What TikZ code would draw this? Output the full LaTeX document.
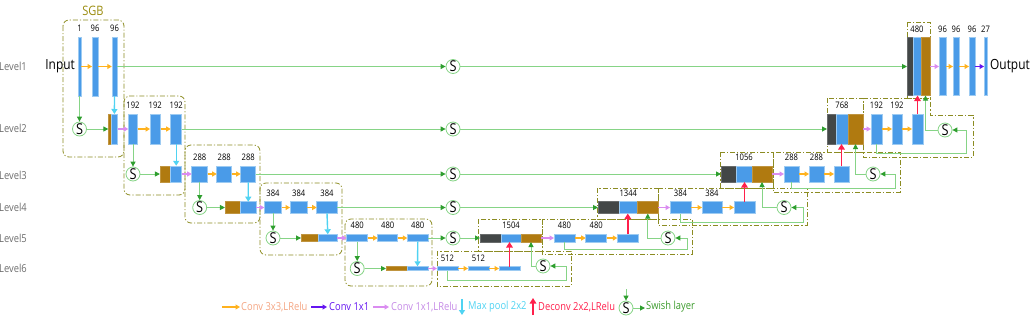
\documentclass[tikz,border=0pt]{standalone}
\usepackage{fontspec}
\setmainfont[FakeStretch=0.85]{Open Sans}
\usetikzlibrary{arrows.meta}
\definecolor{barblue}{HTML}{4A9BE8}
\definecolor{barline}{HTML}{9DCBF2}
\definecolor{catbrown}{HTML}{B07A10}
\definecolor{catgray}{HTML}{434747}
\definecolor{corange}{HTML}{FFB21E}
\definecolor{cpink}{HTML}{DA8CF0}
\definecolor{ccyan}{HTML}{4FD3F2}
\definecolor{cred}{HTML}{FF1F4B}
\definecolor{cpurple}{HTML}{6414F0}
\definecolor{glight}{HTML}{86D486}
\definecolor{gdark}{HTML}{2E9E2E}
\definecolor{olivebox}{HTML}{8C8C22}
\definecolor{lvlgray}{HTML}{6E6E6E}
\definecolor{sgbcol}{HTML}{9A8B0C}
\definecolor{lorange}{HTML}{F4A582}
\definecolor{lpink}{HTML}{C58AE6}
\definecolor{lgreen}{HTML}{3A9A2A}
\newcommand\blk[6]{\node[#6, minimum width=#4pt, minimum height=#5pt] (#1) at (#2,#3) {};}
\newcommand\lab[3]{\node[lbl] (#1) at ([yshift=5.5pt]#2.north) {#3};}
\begin{document}
\begin{tikzpicture}[x=1pt,y=-1pt,
  bar/.style={draw=barline, fill=barblue, line width=0.5pt, inner sep=0pt, outer sep=0pt},
  brn/.style={draw=catbrown!80!white, fill=catbrown, line width=0.5pt, inner sep=0pt, outer sep=0pt},
  gry/.style={draw=catgray!80!white, fill=catgray, line width=0.5pt, inner sep=0pt, outer sep=0pt},
  lbl/.style={anchor=base, inner sep=0pt, font=\fontsize{9}{10}\selectfont},
  lvl/.style={anchor=west, inner sep=0pt, text=lvlgray, font=\fontsize{11}{12}\selectfont},
  big/.style={inner sep=0pt, font=\fontsize{14}{15}\selectfont},
  leg/.style={anchor=west, inner sep=0pt, font=\fontsize{11}{12}\selectfont},
  sw/.style={circle, draw=glight, fill=white, line width=0.8pt, minimum size=14pt, inner sep=0pt, font=\fontsize{15}{15}\selectfont},
  oarr/.style={corange, line width=1.3pt, -{Triangle[width=5pt,length=4.5pt]}},
  parr/.style={cpink, line width=1.3pt, -{Triangle[width=5pt,length=4.5pt]}},
  varr/.style={cpurple, line width=1.3pt, -{Triangle[width=5pt,length=4.5pt]}},
  carr/.style={ccyan, line width=1.4pt, -{Triangle[width=6pt,length=5pt]}},
  rarr/.style={cred, line width=1.8pt, -{Triangle[width=6.5pt,length=5.5pt]}},
  garr/.style={glight, line width=1pt, -{Triangle[width=5pt,length=5pt,color=gdark]}},
  grp/.style={olivebox, line width=0.8pt, dash pattern=on 5pt off 2pt on 1.2pt off 2pt},
  egrp/.style={grp, rounded corners=6pt}]
\useasboundingbox (0,0) rectangle (1033,317);

% ---------- group boxes ----------
\draw[egrp] (63,20) rectangle (124,157);
\draw[egrp] (124,96) rectangle (185,195);
\draw[egrp] (185,145) rectangle (260,223);
\draw[egrp] (260,183) rectangle (342,255);
\draw[egrp] (345,219) rectangle (432,286);
\draw[grp] (437,251) rectangle (571,286);
\draw[grp] (478,219) rectangle (542,251);
\draw[grp] (542,219) rectangle (692,254);
\draw[grp] (597,188) rectangle (658,219);
\draw[grp] (658,188) rectangle (807,225);
\draw[grp] (720,152) rectangle (773,188);
\draw[grp] (773,152) rectangle (900,192);
\draw[grp] (827,98) rectangle (863,152);
\draw[grp] (863,98) -- (930,98) -- (930,115) -- (973,115) -- (973,157) -- (863,157) -- cycle;
\draw[grp] (907,22) rectangle (930,98);

% ---------- texts ----------
\node[inner sep=0pt, text=sgbcol, font=\fontsize{13}{14}\selectfont] (sgb) at (93,11) {SGB};
\node[lvl] (lv1) at (-1,66.5) {Level1};
\node[lvl] (lv2) at (-1,128) {Level2};
\node[lvl] (lv3) at (-1,175) {Level3};
\node[lvl] (lv4) at (-1,207.5) {Level4};
\node[lvl] (lv5) at (-1,238) {Level5};
\node[lvl] (lv6) at (-1,268) {Level6};
\node[big, anchor=east] (inp) at (75,66) {Input};
\node[big, anchor=west] (outp) at (990,66) {Output};

% ---------- encoder level 1 ----------
\blk{e1a}{79.5}{66.5}{3}{59}{bar}
\blk{e1b}{95}{66.5}{6}{59}{bar}
\blk{e1c}{114.5}{66.5}{5.5}{59}{bar}
\lab{t1a}{e1a}{1}\lab{t1b}{e1b}{96}\lab{t1c}{e1c}{96}
\draw[oarr] (e1a) -- (e1b);
\draw[oarr] (e1b) -- (e1c);

% ---------- encoder level 2 ----------
\node[sw] (s21) at (79.5,129) {S};
\blk{c2r}{109.7}{129}{2.7}{30}{brn}
\blk{c2b}{114.4}{129}{6.6}{30}{bar}
\blk{e2a}{133}{129}{9.4}{30}{bar}
\blk{e2b}{155.3}{129}{10.5}{30}{bar}
\blk{e2c}{176.2}{129}{11}{30}{bar}
\lab{t2a}{e2a}{192}\lab{t2b}{e2b}{192}\lab{t2c}{e2c}{192}
\draw[garr] (e1a) -- (s21);
\draw[garr] (s21) -- (c2r);
\draw[carr] (e1c.south) -- (c2b.north);
\draw[parr] (c2b) -- (e2a);
\draw[oarr] (e2a) -- (e2b);
\draw[oarr] (e2b) -- (e2c);

% ---------- encoder level 3 ----------
\node[sw] (s31) at (133,174) {S};
\blk{c3r}{165.3}{174}{10.7}{16.5}{brn}
\blk{c3b}{176.2}{174}{11}{16.5}{bar}
\blk{e3a}{199.7}{174}{16}{16.5}{bar}
\blk{e3b}{224.2}{174}{15}{16.5}{bar}
\blk{e3c}{248.2}{174}{15}{16.5}{bar}
\lab{t3a}{e3a}{288}\lab{t3b}{e3b}{288}\lab{t3c}{e3c}{288}
\draw[garr] (e2a) -- (s31);
\draw[garr] (s31) -- (c3r);
\draw[carr] (e2c.south) -- (c3b.north);
\draw[parr] (c3b) -- (e3a);
\draw[oarr] (e3a) -- (e3b);
\draw[oarr] (e3b) -- (e3c);

% ---------- encoder level 4 ----------
\node[sw] (s41) at (199.7,207.5) {S};
\blk{c4r}{232.8}{207.5}{15.7}{11.6}{brn}
\blk{c4b}{248.3}{207.5}{15.3}{11.6}{bar}
\blk{e4a}{273}{207.5}{17.4}{11.6}{bar}
\blk{e4b}{298.7}{207.5}{17.3}{11.6}{bar}
\blk{e4c}{327}{207.5}{20.6}{11.6}{bar}
\lab{t4a}{e4a}{384}\lab{t4b}{e4b}{384}\lab{t4c}{e4c}{384}
\draw[garr] (e3a) -- (s41);
\draw[garr] (s41) -- (c4r);
\draw[carr] (e3c.south) -- (c4b.north);
\draw[parr] (c4b) -- (e4a);
\draw[oarr] (e4a) -- (e4b);
\draw[oarr] (e4b) -- (e4c);

% ---------- encoder level 5 ----------
\node[sw] (s51) at (273,238) {S};
\blk{c5r}{309.7}{238}{17.3}{7.4}{brn}
\blk{c5b}{327.8}{238}{19}{7.4}{bar}
\blk{e5a}{357.2}{238}{21}{7.4}{bar}
\blk{e5b}{387.7}{238}{20}{7.4}{bar}
\blk{e5c}{417.8}{238}{21}{7.4}{bar}
\lab{t5a}{e5a}{480}\lab{t5b}{e5b}{480}\lab{t5c}{e5c}{480}
\draw[garr] (e4a) -- (s51);
\draw[garr] (s51) -- (c5r);
\draw[carr] (e4c.south) -- (c5b.north);
\draw[parr] (c5b) -- (e5a);
\draw[oarr] (e5a) -- (e5b);
\draw[oarr] (e5b) -- (e5c);

% ---------- encoder level 6 / bottom ----------
\node[sw] (s61) at (357.2,268.5) {S};
\blk{c6r}{396.5}{268.5}{21}{4.4}{brn}
\blk{c6b}{417.5}{268.5}{21}{4.4}{bar}
\blk{d6a}{447.5}{268.5}{21}{4}{bar}
\blk{d6b}{478.5}{268.5}{21}{4}{bar}
\blk{d6c}{509.5}{268.5}{21}{4}{bar}
\lab{t6a}{d6a}{512}\lab{t6b}{d6b}{512}
\draw[garr] (e5a) -- (s61);
\draw[garr] (s61) -- (c6r);
\draw[carr] (e5c.south) -- (c6b.north);
\draw[parr] (c6b) -- (d6a);
\draw[oarr] (d6a) -- (d6b);
\draw[oarr] (d6b) -- (d6c);

% ---------- decoder blocks ----------
\blk{g5}{490.5}{238}{21}{8}{gry}
\blk{m5}{511}{238}{20}{8}{bar}
\blk{r5}{531}{238}{20}{8}{brn}
\blk{d5a}{564.5}{238}{21}{8}{bar}
\blk{d5b}{596.2}{238}{21}{8}{bar}
\blk{d5c}{627.8}{238}{21}{8}{bar}
\lab{u5}{m5}{1504}\lab{u5a}{d5a}{480}\lab{u5b}{d5b}{480}

\blk{g4}{608.5}{207.5}{21}{12}{gry}
\blk{m4}{628.25}{207.5}{18.5}{12}{bar}
\blk{r4}{647.75}{207.5}{20.5}{12}{brn}
\blk{d4a}{680.5}{207.5}{21}{12}{bar}
\blk{d4b}{712}{207.5}{20}{12}{bar}
\blk{d4c}{744.5}{207.5}{21}{12}{bar}
\lab{u4}{m4}{1344}\lab{u4a}{d4a}{384}\lab{u4b}{d4b}{384}

\blk{g3}{728.5}{174}{15}{16}{gry}
\blk{m3}{744}{174}{16}{16}{bar}
\blk{r3}{762}{174}{20}{16}{brn}
\blk{d3a}{791.5}{174}{15}{16}{bar}
\blk{d3b}{816.5}{174}{15}{16}{bar}
\blk{d3c}{841.5}{174}{15}{16}{bar}
\lab{u3}{m3}{1056}\lab{u3a}{d3a}{288}\lab{u3b}{d3b}{288}

\blk{g2}{831.5}{129}{9}{30}{gry}
\blk{m2}{842}{129}{12}{30}{bar}
\blk{r2}{855.5}{129}{15}{30}{brn}
\blk{d2a}{876.5}{129}{11}{30}{bar}
\blk{d2b}{897}{129}{10}{30}{bar}
\blk{d2c}{917.5}{129}{11}{30}{bar}
\lab{u2}{m2}{768}\lab{u2a}{d2a}{192}\lab{u2b}{d2b}{192}

\blk{g1}{910}{66.5}{6}{58}{gry}
\blk{m1}{917}{66.5}{8}{58}{bar}
\blk{r1}{925.5}{66.5}{9}{58}{brn}
\blk{o1}{942.5}{66.5}{7}{58}{bar}
\blk{o2}{956}{66.5}{6}{58}{bar}
\blk{o3}{972}{66.5}{6}{58}{bar}
\blk{o4}{985.5}{66.5}{3}{58}{bar}
\lab{u1}{m1}{480}\lab{u1a}{o1}{96}\lab{u1b}{o2}{96}\lab{u1c}{o3}{96}\lab{u1d}{o4}{27}

% ---------- skip connections ----------
\node[sw] (k1) at (453,66.5) {S};
\node[sw] (k2) at (453,129) {S};
\node[sw] (k3) at (453,174) {S};
\node[sw] (k4) at (453,207.5) {S};
\node[sw] (k5) at (453,238) {S};
\draw[garr] (e1c) -- (k1); \draw[garr] (k1) -- (g1);
\draw[garr] (e2c) -- (k2); \draw[garr] (k2) -- (g2);
\draw[garr] (e3c) -- (k3); \draw[garr] (k3) -- (g3);
\draw[garr] (e4c) -- (k4); \draw[garr] (k4) -- (g4);
\draw[garr] (e5c) -- (k5); \draw[garr] (k5) -- (g5);

% ---------- decoder connections ----------
\node[sw] (s62) at (543,266) {S};
\node[sw] (s52) at (668,238) {S};
\node[sw] (s42) at (784,207.5) {S};
\node[sw] (s32) at (873,174) {S};
\node[sw] (s22) at (945,130) {S};
\coordinate (q6) at (566,280);
\coordinate (q5) at (687,249.5);
\coordinate (q4) at (803,222);
\coordinate (q3) at (895,188);
\coordinate (q2) at (966,153);

\draw[rarr] (d6c.north) -- (d6c.north |- m5.south);
\draw[garr] (d6a.south) |- (q6) |- (s62);
\draw[garr] (s62) -| (r5.south);

\draw[parr] (r5) -- (d5a);
\draw[oarr] (d5a) -- (d5b);
\draw[oarr] (d5b) -- (d5c);
\draw[rarr] (d5c.north) -- (d5c.north |- m4.south);
\draw[garr] (d5a.south) |- (q5) |- (s52);
\draw[garr] (s52) -| (r4.south);

\draw[parr] (r4) -- (d4a);
\draw[oarr] (d4a) -- (d4b);
\draw[oarr] (d4b) -- (d4c);
\draw[rarr] (d4c.north) -- (d4c.north |- m3.south);
\draw[garr] (d4a.south) |- (q4) |- (s42);
\draw[garr] (s42) -| (r3.south);

\draw[parr] (r3) -- (d3a);
\draw[oarr] (d3a) -- (d3b);
\draw[oarr] (d3b) -- (d3c);
\draw[rarr] (d3c.north) -- (d3c.north |- m2.south);
\draw[garr] (d3a.south) |- (q3) |- (s32);
\draw[garr] (s32) -| (r2.south);

\draw[parr] (r2) -- (d2a);
\draw[oarr] (d2a) -- (d2b);
\draw[oarr] (d2b) -- (d2c);
\draw[rarr] (d2c.north) -- (d2c.north |- m1.south);
\draw[garr] (d2a.south) |- (q2) |- (s22);
\draw[garr] (s22) -| (r1.south);

\draw[parr] (r1) -- (o1);
\draw[oarr] (o1) -- (o2);
\draw[oarr] (o2) -- (o3);
\draw[varr] (o3) -- (o4);

% ---------- legend ----------
\coordinate (la1) at (222,307); \coordinate (la2) at (240,307);
\draw[oarr] (la1) -- (la2);
\node[leg, text=lorange] (lt1) at (241,307) {Conv 3x3,LRelu};
\coordinate (lb1) at (311,307); \coordinate (lb2) at (327,307);
\draw[varr] (lb1) -- (lb2);
\node[leg, text=cpurple] (lt2) at (329,307) {Conv 1x1};
\coordinate (lc1) at (373,307); \coordinate (lc2) at (389,307);
\draw[parr] (lc1) -- (lc2);
\node[leg, text=lpink] (lt3) at (391,307) {Conv 1x1,LRelu};
\coordinate (ld1) at (462,299); \coordinate (ld2) at (462,315);
\draw[carr] (ld1) -- (ld2);
\node[leg, text=ccyan] (lt4) at (468,307) {Max pool 2x2};
\coordinate (le1) at (533,315); \coordinate (le2) at (533,298);
\draw[rarr] (le1) -- (le2);
\node[leg, text=cred] (lt5) at (538,307) {Deconv 2x2,LRelu};
\node[sw] (ls) at (626,308) {S};
\coordinate (lf1) at (626,289); \coordinate (lf2) at (645,308);
\draw[garr] (lf1) -- (ls);
\draw[garr] (ls) -- (lf2);
\node[leg, text=lgreen] (lt6) at (646,307) {Swish layer};
\end{tikzpicture}
\end{document}
